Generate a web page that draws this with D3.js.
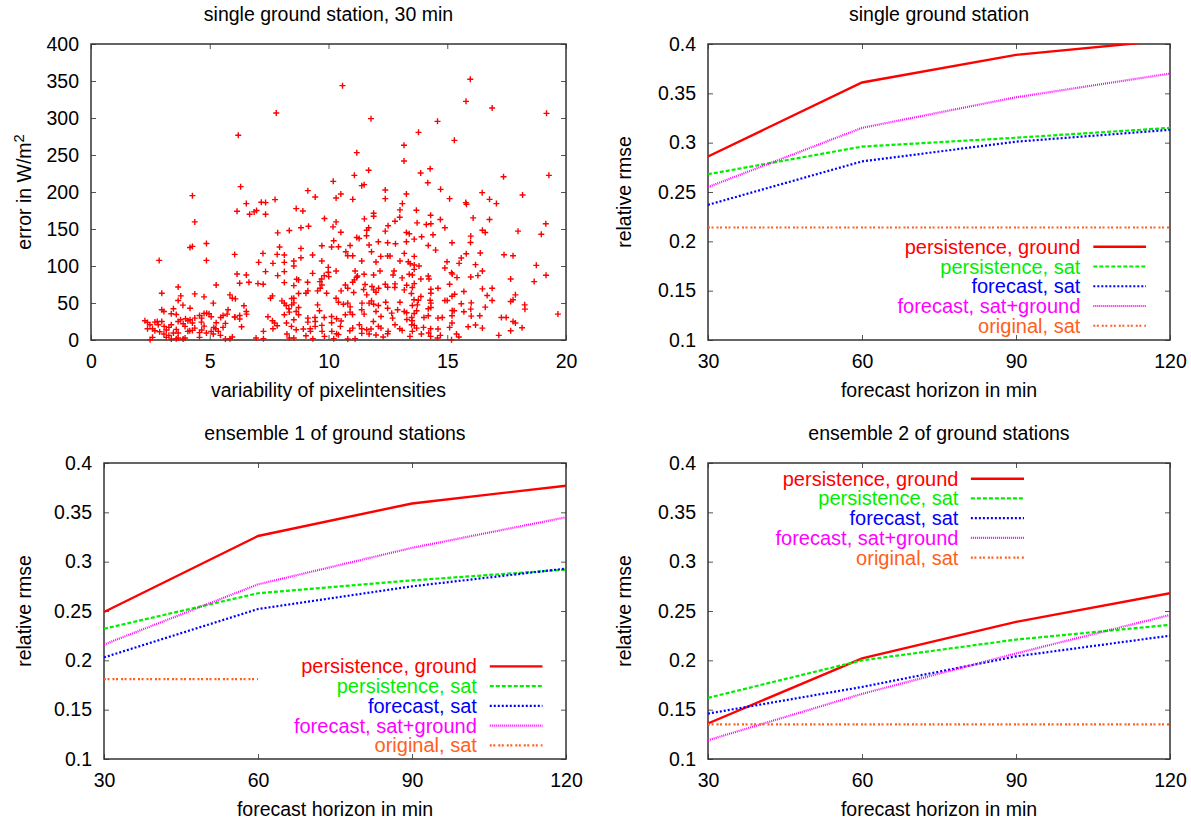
<!DOCTYPE html>
<html>
<head>
<meta charset="utf-8">
<script src="https://cdn.jsdelivr.net/npm/d3@7"></script>
<style>
  body { margin: 0; background: #fff; }
  svg { display: block; }
  text { font-family: "Liberation Sans", Arial, Helvetica, sans-serif; }
</style>
</head>
<body>
<svg id="chart" width="1191" height="820"></svg>
<script>
// ---- tick labels ----
const variabilityTicks = [0, 5, 10, 15, 20];
const errorTicks = [0, 50, 100, 150, 200, 250, 300, 350, 400];
const horizonTicks = [30, 60, 90, 120];
const rmseTicks = [0.1, 0.15, 0.2, 0.25, 0.3, 0.35, 0.4];

// ---- scatter: variability of pixel intensities vs. error (W/m^2), 30 min ----
const scatterPoints = [
  [10.59,343.7],[15.97,352.3],[15.79,322.5],[16.89,313.5],[19.18,306.3],[7.80,306.8],[11.79,299.1],[14.59,295.5],
  [13.79,280.6],[6.20,276.6],[15.30,269.8],[13.18,263.1],[11.19,253.2],[13.18,241.9],[14.28,231.5],[11.69,229.3],
  [13.88,225.7],[17.37,220.7],[19.28,222.5],[11.09,222.5],[10.20,214.4],[11.40,208.6],[11.50,209.9],[14.18,212.6],
  [6.30,207.2],[12.39,202.7],
  [4.27,195.1],[6.54,184.3],[6.15,174.0],[6.68,170.0],[4.37,159.6],[4.17,125.1],[4.27,126.5],[4.86,130.5],
  [6.05,115.7],[2.87,107.6],[4.86,107.6],[6.15,89.2],[6.54,87.9],[6.26,76.7],[3.67,71.7],[5.27,74.4],
  [2.98,63.2],[4.37,62.3],[3.78,59.6],[3.67,53.4],[4.76,58.3],[5.85,61.0],[5.95,56.5],[6.08,55.6],
  [5.15,49.8],[6.44,46.2],[3.87,47.1],[4.17,43.0],[2.98,40.8],[3.07,38.6],[3.47,42.2],[3.38,35.4],
  [3.59,34.5],[5.77,40.8],[5.73,35.0],[6.54,38.6],[6.55,35.0],[6.06,30.9],[6.26,33.2],[2.27,26.0],
  [2.38,23.8],[2.69,24.2],[2.79,25.1],[2.48,20.6],[2.38,15.2],[2.59,15.2],[2.69,12.6],[2.89,11.2],
  [2.98,25.1],[3.08,18.4],[3.17,13.5],[3.28,17.0],[3.38,20.6],[3.28,6.3],[3.47,9.4],[3.59,14.3],
  [3.67,25.1],[3.77,27.4],[3.88,22.0],[3.98,28.7],[4.08,26.0],[3.96,18.4],[4.08,11.7],[4.16,12.6],
  [4.27,13.0],[4.37,16.1],[4.27,22.9],[4.17,27.4],[4.37,29.6],[4.57,33.2],[4.66,29.6],[4.76,35.9],
  [4.87,36.3],[4.97,35.4],[5.06,31.4],[4.65,24.2],[4.76,18.8],[4.66,13.5],[4.57,9.9],[4.86,9.4],
  [5.06,11.7],[5.17,17.0],[5.27,23.3],[5.25,15.2],[5.15,8.1],[5.36,11.7],[5.45,6.3],[5.56,17.0],
  [5.66,22.4],[5.46,30.5],[5.56,33.2],[2.49,0.4],[2.59,3.6],[3.17,3.6],[3.38,1.3],[3.59,1.8],
  [3.67,2.7],[3.88,1.3],[3.96,2.7],[4.57,3.6],[5.66,1.3],[5.85,1.8],[5.95,4.0],[6.34,17.9],
  [6.26,28.3],[6.05,31.0],[2.83,20.6],[3.67,9.4],[3.07,8.1],
  [9.13,201.8],[10.52,197.3],[13.28,197.3],[9.44,193.3],[10.32,191.9],[11.02,190.1],[12.39,191.0],[7.17,186.1],
  [7.35,185.7],[7.75,189.7],[13.11,184.3],[6.87,173.1],[6.97,174.9],[7.35,170.0],[8.64,177.6],[8.92,174.4],
  [11.90,171.3],[11.90,167.3],[13.01,175.8],[13.00,165.9],[9.83,164.1],[10.32,159.6],[11.51,163.7],[10.19,152.9],
  [9.16,153.8],[8.84,151.6],[8.35,148.0],[7.86,144.8],[10.52,145.7],[11.69,151.6],[11.61,148.4],[12.39,147.1],
  [12.51,154.3],[12.80,160.5],[13.28,145.3],[13.40,143.5],[11.29,137.2],[11.19,138.6],[11.60,140.8],[10.22,134.1],
  [7.94,125.6],[8.84,123.8],[9.72,127.4],[10.13,125.6],[10.42,126.0],[10.91,127.8],[11.71,128.3],[12.10,132.7],
  [12.49,131.4],[12.82,130.0],[13.28,132.7],[7.24,117.0],[7.84,115.7],[8.14,114.8],[8.54,106.7],[8.54,100.0],
  [8.84,111.2],[9.33,114.8],[9.72,106.7],[10.73,119.3],[10.81,113.9],[11.02,113.9],[11.40,106.7],[11.81,119.3],
  [12.00,105.4],[12.20,113.0],[12.49,113.5],[12.59,113.5],[13.19,117.0],[13.01,106.7],[13.36,105.8],[13.44,103.1],
  [7.06,104.9],[7.66,103.6],[8.14,104.9],[7.35,92.4],[7.86,87.0],[8.14,92.4],[9.33,90.1],[9.99,91.5],
  [9.99,98.2],[10.32,93.3],[11.12,93.3],[11.22,86.5],[11.50,88.8],[11.90,87.9],[12.17,93.3],[12.72,87.9],
  [12.76,93.3],[13.10,83.9],[13.40,88.8],[6.65,78.0],[7.03,76.2],[7.25,75.3],[8.14,77.6],[8.54,73.5],
  [8.66,82.1],[8.74,81.2],[9.12,78.0],[9.64,78.9],[9.72,74.4],[9.71,82.5],[9.82,87.0],[10.01,85.7],
  [10.71,74.4],[11.02,78.0],[11.09,81.2],[11.19,84.8],[11.54,74.9],[11.48,68.2],[11.83,72.2],[11.90,67.7],
  [12.00,64.6],[12.11,70.0],[12.39,75.3],[12.49,71.3],[12.80,75.8],[12.79,70.9],[13.19,67.7],[13.29,74.0],
  [13.49,62.8],[8.74,62.8],[9.13,66.4],[9.05,63.2],[9.54,66.4],[9.65,70.0],[9.92,63.2],[10.32,56.5],
  [10.53,66.4],[10.81,70.0],[11.06,64.1],[11.61,61.0],[7.56,56.5],[7.64,59.6],[8.04,52.9],[8.45,56.1],
  [8.54,56.5],[8.54,50.2],[8.45,47.5],[8.74,43.9],[8.64,38.6],[8.14,49.8],[8.22,46.6],[8.33,42.2],
  [7.45,31.4],[8.14,34.1],[8.35,37.7],[8.74,34.1],[9.13,29.6],[9.13,24.2],[9.43,30.5],[9.44,25.1],
  [9.54,47.5],[9.62,39.5],[9.82,30.5],[10.13,31.8],[10.13,23.3],[10.34,28.7],[10.53,25.6],[10.42,51.1],
  [10.63,48.4],[10.81,49.8],[10.91,44.8],[10.91,37.7],[10.71,34.1],[11.01,34.5],[11.40,40.8],[11.50,35.0],
  [11.41,49.8],[11.71,49.8],[11.81,52.9],[11.90,48.4],[12.00,38.6],[12.10,46.6],[12.21,31.8],[12.41,51.1],
  [12.49,43.0],[12.66,36.3],[12.70,29.6],[12.91,40.8],[13.01,51.1],[13.19,38.6],[13.29,36.8],[13.30,27.8],
  [13.50,30.5],[13.50,20.6],[7.64,26.0],[7.73,22.9],[7.66,15.2],[7.84,19.3],[8.23,22.9],[8.54,27.4],
  [8.44,18.4],[8.64,13.9],[8.94,14.8],[9.23,15.2],[9.44,18.4],[9.72,19.7],[9.73,11.7],[10.14,11.7],
  [10.34,8.5],[10.50,18.4],[10.90,12.6],[11.02,16.1],[11.30,20.6],[11.40,15.2],[11.61,13.9],[11.79,14.8],
  [11.89,25.1],[12.10,18.4],[12.21,16.1],[12.30,4.0],[12.51,11.7],[12.80,20.6],[13.00,15.2],[13.10,13.0],
  [6.95,2.7],[7.26,1.8],[7.26,11.7],[8.25,8.1],[8.35,2.7],[8.54,2.7],[9.05,5.8],[9.24,11.7],
  [9.34,1.8],[9.83,4.9],[10.22,1.8],[10.42,7.2],[10.81,1.3],[11.12,1.8],[11.40,9.0],[11.71,8.1],
  [12.00,6.7],[12.49,8.5],
  [14.72,203.6],[16.47,199.1],[15.10,191.0],[15.78,185.7],[15.81,183.4],[16.78,190.1],[17.07,184.3],[18.17,196.0],
  [13.70,175.3],[14.30,168.6],[14.71,162.8],[16.09,165.0],[16.78,162.8],[13.73,158.3],[14.12,156.1],[14.31,157.0],
  [14.90,151.6],[16.48,148.4],[16.60,145.3],[15.99,140.4],[15.98,131.8],[13.61,136.3],[13.92,139.5],[14.40,142.2],
  [15.20,131.4],[17.98,147.1],[19.15,157.0],[18.96,143.0],[14.20,127.8],[14.51,121.5],[15.80,116.6],[16.39,117.5],
  [17.39,115.2],[17.77,113.9],[13.61,113.0],[13.61,101.3],[13.81,100.0],[13.61,95.5],[14.99,105.8],[14.90,97.3],
  [15.59,110.8],[15.50,103.6],[15.18,91.0],[15.21,89.2],[16.19,101.8],[15.41,84.3],[15.99,85.2],[16.29,87.0],
  [16.48,93.3],[18.75,100.9],[19.16,87.4],[18.66,78.9],[17.67,82.5],[13.53,87.9],[14.20,86.5],[14.23,82.5],
  [13.89,82.5],[13.61,76.2],[15.10,75.3],[13.53,70.9],[14.31,68.6],[14.31,63.2],[14.61,70.0],[15.70,65.5],
  [16.48,69.1],[16.89,70.0],[15.20,59.2],[15.31,61.9],[16.68,60.1],[16.89,53.4],[17.87,61.0],[17.77,54.3],
  [17.67,52.0],[13.89,58.7],[13.78,53.8],[13.60,54.3],[14.28,53.8],[14.90,53.4],[15.00,53.4],[16.01,50.2],
  [15.59,48.9],[13.74,47.5],[13.53,46.6],[14.31,49.8],[14.31,43.9],[16.60,44.4],[18.26,47.5],[18.27,41.7],
  [19.66,35.0],[13.71,39.5],[13.61,35.9],[14.20,42.2],[14.20,32.7],[14.02,30.5],[14.61,29.6],[14.79,30.5],
  [15.21,39.9],[15.29,39.5],[15.70,38.1],[15.99,41.7],[16.01,32.3],[16.37,32.7],[17.28,30.5],[17.48,30.5],
  [17.77,25.1],[17.87,22.9],[18.15,16.6],[15.20,32.7],[15.20,22.9],[15.10,17.0],[15.88,17.9],[16.19,20.2],
  [16.48,16.1],[13.52,26.0],[13.61,19.7],[13.53,11.7],[13.71,16.1],[14.00,17.0],[14.30,15.2],[14.61,14.8],
  [13.91,8.1],[14.22,9.4],[14.30,4.9],[14.59,2.7],[14.71,6.3],[15.39,8.1],[15.49,4.0],[15.18,0.4],
  [17.17,6.3],[17.67,12.6],[13.43,4.9]
];

// ---- relative rmse vs. forecast horizon ----
const horizons = [30, 60, 90, 120];
const seriesNames = ["persistence, ground", "persistence, sat", "forecast, sat", "forecast, sat+ground", "original, sat"];

// single ground station
const singlePersGround = [0.286, 0.361, 0.389, 0.404];
const singlePersSat    = [0.268, 0.296, 0.305, 0.315];
const singleFcSat      = [0.237, 0.281, 0.301, 0.313];
const singleFcSatGround= [0.255, 0.315, 0.346, 0.370];
const singleOrigSat    = [0.214, 0.214, 0.214, 0.214];

// ensemble 1 of ground stations
const ens1PersGround = [0.249, 0.326, 0.359, 0.377];
const ens1PersSat    = [0.232, 0.268, 0.281, 0.292];
const ens1FcSat      = [0.203, 0.252, 0.275, 0.293];
const ens1FcSatGround= [0.216, 0.277, 0.314, 0.345];
const ens1OrigSat    = [0.181, 0.181, null, null];

// ensemble 2 of ground stations
const ens2PersGround = [0.136, 0.202, 0.239, 0.268];
const ens2PersSat    = [0.162, 0.200, 0.221, 0.236];
const ens2FcSat      = [0.146, 0.173, 0.204, 0.225];
const ens2FcSatGround= [0.119, 0.166, 0.207, 0.246];
const ens2OrigSat    = [0.135, 0.135, 0.135, 0.135];

// ---- styling ----
const seriesColors = ["#ff0000", "#00ee00", "#0000ff", "#ff00ff", "#ff6020"];
const seriesDashes = [null, "4,2", "2,2", "1,1", "2,1.5,2,3"];
const FONT = 19.5;
const AXIS_COLOR = "#333";

const svg = d3.select("#chart");

function frame(g, box, x, y, xTicks, yTicks, yFmt, id) {
  const w = box.x1 - box.x0, h = box.y1 - box.y0;
  g.append("clipPath").attr("id", id).append("rect").attr("width", w).attr("height", h);

  const styleAxis = sel => {
    sel.select(".domain").remove();
    sel.selectAll(".tick line").attr("stroke", "#555").attr("stroke-width", 1);
    sel.selectAll(".tick text").attr("fill", "#000").attr("font-size", FONT)
      .attr("font-family", "Liberation Sans, Arial, sans-serif");
  };
  g.append("g").attr("transform", `translate(0,${h})`)
    .call(d3.axisBottom(x).tickValues(xTicks).tickSize(-5).tickPadding(14.5)).call(styleAxis);
  g.append("g")
    .call(d3.axisTop(x).tickValues(xTicks).tickSize(-5).tickFormat("")).call(styleAxis);
  g.append("g")
    .call(d3.axisLeft(y).tickValues(yTicks).tickSize(-5).tickPadding(12).tickFormat(yFmt)).call(styleAxis);
  g.append("g").attr("transform", `translate(${w},0)`)
    .call(d3.axisRight(y).tickValues(yTicks).tickSize(-5).tickFormat("")).call(styleAxis);

  g.append("rect").attr("width", w).attr("height", h)
    .attr("fill", "none").attr("stroke", AXIS_COLOR).attr("stroke-width", 1.5);
}

function labels(g, box, title, titleDy, xLabel, xLabelDy, yLabel, yLabelX) {
  const w = box.x1 - box.x0, h = box.y1 - box.y0;
  g.append("text").attr("x", w / 2).attr("y", titleDy).attr("text-anchor", "middle")
    .attr("font-size", FONT).text(title);
  g.append("text").attr("x", w / 2).attr("y", h + xLabelDy).attr("text-anchor", "middle")
    .attr("font-size", FONT).text(xLabel);
  const yl = g.append("text")
    .attr("transform", `translate(${yLabelX},${h / 2}) rotate(-90)`)
    .attr("text-anchor", "middle").attr("font-size", FONT);
  yl.text(yLabel.text);
  if (yLabel.sup) {
    yl.append("tspan").attr("dy", "-0.5em").attr("font-size", FONT * 0.75).text(yLabel.sup);
  }
}

// ---------- panel 1: scatter ----------
{
  const box = { x0: 91, x1: 566, y0: 44, y1: 340 };
  const g = svg.append("g").attr("transform", `translate(${box.x0},${box.y0})`);
  const x = d3.scaleLinear().domain([0, 20]).range([0, box.x1 - box.x0]);
  const y = d3.scaleLinear().domain([0, 400]).range([box.y1 - box.y0, 0]);
  frame(g, box, x, y, variabilityTicks, errorTicks, d => d, "clip1");
  g.append("g").selectAll("path").data(scatterPoints).join("path")
    .attr("transform", d => `translate(${x(d[0])},${y(d[1])})`)
    .attr("d", "M-3,0H3M0,-3V3")
    .attr("stroke", "#ff0000").attr("stroke-width", 1.4).attr("fill", "none");
  labels(g, box, "single ground station, 30 min", -23, "variability of pixelintensities", 57,
    { text: "error in W/m", sup: "2" }, 31 - box.x0);
}

// ---------- panels 2-4: rmse curves ----------
const rmsePanels = [
  { title: "single ground station", box: { x0: 708, x1: 1170, y0: 44, y1: 340 },
    series: [singlePersGround, singlePersSat, singleFcSat, singleFcSatGround, singleOrigSat],
    legend: { textEnd: 0.806, s0: 0.834, s1: 0.948, top: 0.685 }, xlab: 57 },
  { title: "ensemble 1 of ground stations", box: { x0: 104, x1: 566, y0: 463, y1: 759 },
    series: [ens1PersGround, ens1PersSat, ens1FcSat, ens1FcSatGround, ens1OrigSat],
    legend: { textEnd: 0.807, s0: 0.835, s1: 0.949, top: 0.687 }, xlab: 57 },
  { title: "ensemble 2 of ground stations", box: { x0: 708, x1: 1170, y0: 463, y1: 759 },
    series: [ens2PersGround, ens2PersSat, ens2FcSat, ens2FcSatGround, ens2OrigSat],
    legend: { textEnd: 0.542, s0: 0.569, s1: 0.684, top: 0.053 }, xlab: 57 }
];

rmsePanels.forEach((p, i) => {
  const box = p.box, w = box.x1 - box.x0, h = box.y1 - box.y0;
  const g = svg.append("g").attr("transform", `translate(${box.x0},${box.y0})`);
  const x = d3.scaleLinear().domain([30, 120]).range([0, w]);
  const y = d3.scaleLinear().domain([0.1, 0.4]).range([h, 0]);
  const clipId = "clipR" + i;
  frame(g, box, x, y, horizonTicks, rmseTicks, d => String(+d.toFixed(2)), clipId);

  const line = d3.line().defined(d => d[1] != null).x(d => x(d[0])).y(d => y(d[1]));
  const lines = g.append("g").attr("clip-path", `url(#${clipId})`);
  p.series.forEach((vals, k) => {
    lines.append("path")
      .datum(horizons.map((hz, j) => [hz, vals[j]]))
      .attr("d", line).attr("fill", "none")
      .attr("stroke", seriesColors[k]).attr("stroke-width", k === 0 ? 2.4 : 2.2)
      .attr("stroke-dasharray", seriesDashes[k]);
  });

  // key
  const rowH = 19.75;
  const lg = g.append("g");
  seriesNames.forEach((name, k) => {
    const ly = p.legend.top * h + k * rowH;
    lg.append("text").attr("x", p.legend.textEnd * w).attr("y", ly + 7)
      .attr("text-anchor", "end").attr("font-size", 20).attr("fill", seriesColors[k]).text(name);
    lg.append("line").attr("x1", p.legend.s0 * w).attr("x2", p.legend.s1 * w)
      .attr("y1", ly).attr("y2", ly)
      .attr("stroke", seriesColors[k]).attr("stroke-width", k === 0 ? 2.4 : 2.2)
      .attr("stroke-dasharray", seriesDashes[k]);
  });

  labels(g, box, p.title, -23, "forecast horizon in min", p.xlab,
    { text: "relative rmse" }, (i === 1 ? 30.5 : 631) - box.x0);
});
</script>
</body>
</html>
